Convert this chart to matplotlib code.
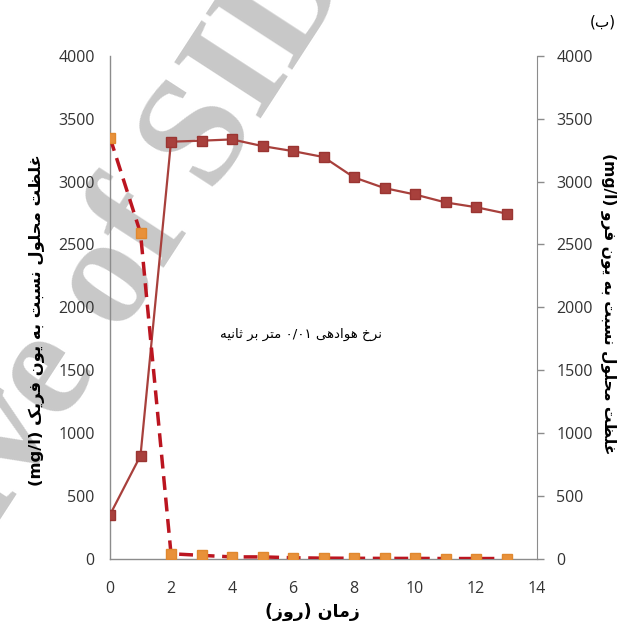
import matplotlib
matplotlib.use("Agg")
import matplotlib.pyplot as plt
import numpy as np

# data
days = [0, 1, 2, 3, 4, 5, 6, 7, 8, 9, 10, 11, 12, 13]
ferric = [350, 820, 3317, 3325, 3335, 3282, 3242, 3195, 3033, 2948, 2897, 2834, 2796, 2745]
ferrous = [3350, 2590, 40, 27, 15, 15, 8, 5, 4, 3, 3, 2, 2, 2]

xticks = [0, 2, 4, 6, 8, 10, 12, 14]
yticks = [0, 500, 1000, 1500, 2000, 2500, 3000, 3500, 4000]

left_label = "غلظت محلول نسبت به یون فریک (mg/l)"
right_label = "غلظت محلول نسبت به یون فرو (mg/l)"
x_label = "زمان (روز)"
note = "نرخ هوادهی ۰/۰۱ متر بر ثانیه"
corner = "(ب)"

# matplotlib does no arabic shaping, so pick the presentation forms by hand
FORMS = {
    'ا': ('\uFE8D', '\uFE8E', None, None),
    'ب': ('\uFE8F', '\uFE90', '\uFE91', '\uFE92'),
    'ت': ('\uFE95', '\uFE96', '\uFE97', '\uFE98'),
    'ث': ('\uFE99', '\uFE9A', '\uFE9B', '\uFE9C'),
    'ح': ('\uFEA1', '\uFEA2', '\uFEA3', '\uFEA4'),
    'خ': ('\uFEA5', '\uFEA6', '\uFEA7', '\uFEA8'),
    'د': ('\uFEA9', '\uFEAA', None, None),
    'ر': ('\uFEAD', '\uFEAE', None, None),
    'ز': ('\uFEAF', '\uFEB0', None, None),
    'س': ('\uFEB1', '\uFEB2', '\uFEB3', '\uFEB4'),
    'ظ': ('\uFEC5', '\uFEC6', '\uFEC7', '\uFEC8'),
    'غ': ('\uFECD', '\uFECE', '\uFECF', '\uFED0'),
    'ف': ('\uFED1', '\uFED2', '\uFED3', '\uFED4'),
    'ل': ('\uFEDD', '\uFEDE', '\uFEDF', '\uFEE0'),
    'م': ('\uFEE1', '\uFEE2', '\uFEE3', '\uFEE4'),
    'ن': ('\uFEE5', '\uFEE6', '\uFEE7', '\uFEE8'),
    'ه': ('\uFEE9', '\uFEEA', '\uFEEB', '\uFEEC'),
    'و': ('\uFEED', '\uFEEE', None, None),
    'ی': ('\uFBFC', '\uFBFD', '\uFBFE', '\uFBFF'),
    'ک': ('\uFB8E', '\uFB8F', '\uFB90', '\uFB91'),
}
LTR = set("abcdefghijklmnopqrstuvwxyzABCDEFGHIJKLMNOPQRSTUVWXYZ0123456789/.۰۱۲۳۴۵۶۷۸۹")
MIRROR = {'(': ')', ')': '('}


def rtl(s):
    shaped = []
    for i, c in enumerate(s):
        if c not in FORMS:
            shaped.append(c)
            continue
        prev = s[i - 1] if i > 0 else None
        nxt = s[i + 1] if i + 1 < len(s) else None
        jp = prev in FORMS and FORMS[prev][2] is not None
        jn = FORMS[c][2] is not None and nxt in FORMS
        iso, fin, ini, med = FORMS[c]
        shaped.append(med if jp and jn else fin if jp else ini if jn else iso)
    tokens = []
    for c in shaped:
        if c in LTR and tokens and tokens[-1][0] in LTR:
            tokens[-1] += c
        else:
            tokens.append(c)
    return ''.join(MIRROR.get(t, t) for t in reversed(tokens))


fig = plt.figure(figsize=(6.25, 6.27), dpi=100)
ax = fig.add_axes([0.176, 0.1088, 0.6832, 0.8022])
ax.patch.set_visible(False)
ax.set_zorder(1)

# watermark behind everything
fig.text(0.564, 1.036, "Archive of SID", rotation=57, rotation_mode="anchor",
         ha="right", va="baseline", fontsize=112, color="#c8c8c8",
         family="Liberation Serif", weight="bold", zorder=-1)

ax.plot(days, ferric, color="#a8403c", lw=1.6, marker="s", ms=6.5,
        mfc="#a8403c", mec="#9a3532", zorder=3)
ax.plot(days, ferrous, color="#bb1520", lw=2.5, ls=(0, (4, 2.2)), marker="s",
        ms=6.5, mfc="#e8913a", mec="#e0882f", zorder=4)

ax.set_xlim(0, 14)
ax.set_ylim(0, 4000)
ax.set_xticks(xticks)
ax.set_yticks(yticks)

grey = "#8c8c8c"
for side in ["left", "right", "bottom"]:
    ax.spines[side].set_color(grey)
    ax.spines[side].set_linewidth(1.0)
ax.spines["top"].set_visible(False)
ax.spines["right"].set_visible(False)

tick_font = dict(family="Open Sans", size=11.5, color="#333333")
ax.tick_params(axis="x", length=0, pad=16)
ax.tick_params(axis="y", length=0, pad=11)
for lab in ax.get_xticklabels() + ax.get_yticklabels():
    lab.set(**tick_font)

ax2 = ax.twinx()
ax2.set_ylim(0, 4000)
ax2.set_yticks(yticks)
for side in ["left", "top", "bottom"]:
    ax2.spines[side].set_visible(False)
ax2.spines["right"].set_color(grey)
ax2.tick_params(axis="y", length=5, width=1.0, color=grey, pad=9)
for lab in ax2.get_yticklabels():
    lab.set(**tick_font)

lab_font = dict(family="DejaVu Sans", weight="bold", color="black")
ax.set_ylabel(rtl(left_label), rotation=90, va="center", size=11.8, **lab_font)
ax.yaxis.set_label_coords(-0.171, 0.475)
ax2.set_ylabel(rtl(right_label), rotation=270, va="center", size=11.2, **lab_font)
ax2.yaxis.set_label_coords(1.166, 0.508)
ax.set_xlabel(rtl(x_label), va="center", size=12.5, **lab_font)
ax.xaxis.set_label_coords(0.475, -0.105)

ax.text(6.26, 1788, rtl(note), ha="center", va="center", fontsize=9.6,
        family="DejaVu Sans", color="black")
fig.text(0.985, 0.965, rtl(corner), ha="right", va="center", fontsize=11,
         family="DejaVu Sans", color="black")

fig.savefig("out.png", dpi=100)
